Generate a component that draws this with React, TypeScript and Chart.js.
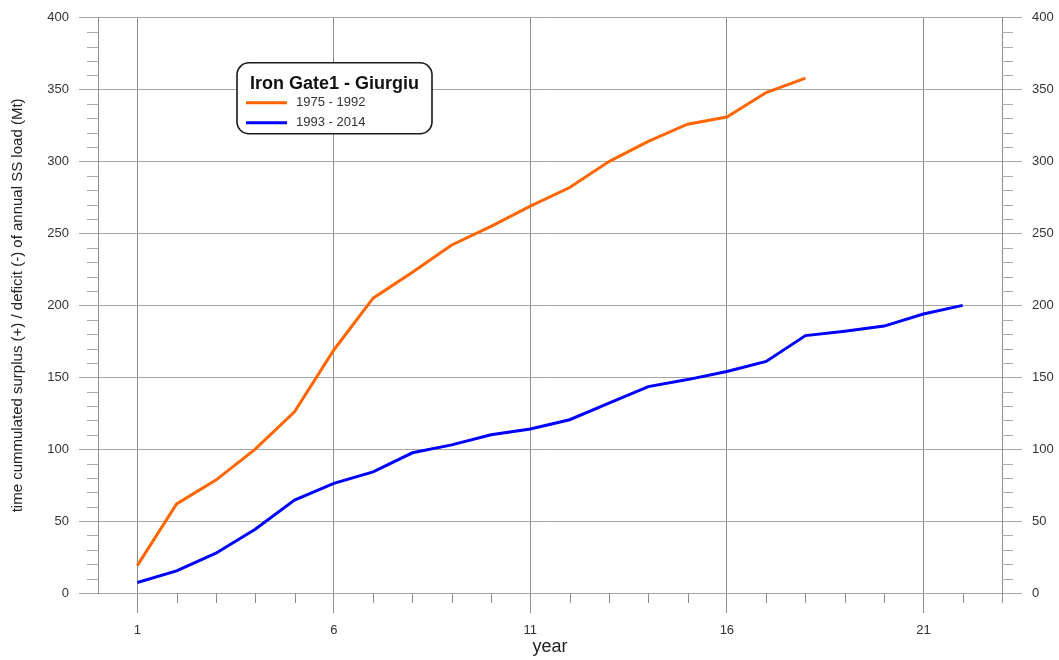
import React, { useEffect, useRef } from 'react';
import { Chart, registerables } from 'chart.js';

Chart.register(...registerables);

// ---- data ----
const years = [1, 2, 3, 4, 5, 6, 7, 8, 9, 10, 11, 12, 13, 14, 15, 16, 17, 18, 19, 20, 21, 22];
const series1975_1992 = [19, 62, 78.5, 100, 126, 169, 205, 223, 242, 255, 269, 282, 300, 314, 326, 331, 348, 358];
const series1993_2014 = [7.3, 15.4, 27.7, 44.3, 64.6, 76.2, 84.2, 97.5, 103, 110, 114, 120.5, 132, 143.5, 148.4, 154, 161, 179, 182, 185.6, 194, 200];
const seriesLabels = ['1975 - 1992', '1993 - 2014'];
const legendTitle = 'Iron Gate1 - Giurgiu';
const xMajorTicks = [1, 6, 11, 16, 21];
const xMin = 0;
const xMax = 23;
const yMin = 0;
const yMax = 400;
const yMajorStep = 50;
const yMinorStep = 10;
const yTitle = 'time cummulated surplus (+) / deficit (-) of annual SS load (Mt)';
const xTitle = 'year';

const FONT = "'Liberation Sans', Arial, Helvetica, sans-serif";

const decorPlugin = {
  id: 'decor',
  afterDraw(chart: any) {
    const { ctx, chartArea: ca, scales } = chart;
    const xs = scales.x;
    const ys = scales.y;
    ctx.save();
    // minor ticks
    ctx.strokeStyle = '#ababab';
    ctx.lineWidth = 1;
    ctx.beginPath();
    for (let v = yMin; v <= yMax; v += yMinorStep) {
      if (v % yMajorStep === 0) continue;
      const py = Math.round(ys.getPixelForValue(v)) + 0.5;
      ctx.moveTo(ca.left - 11, py);
      ctx.lineTo(ca.left, py);
      ctx.moveTo(ca.right, py);
      ctx.lineTo(ca.right + 11, py);
    }
    ctx.stroke();
    ctx.strokeStyle = '#8c8c8c';
    ctx.beginPath();
    for (let v = xMin + 1; v <= xMax; v += 1) {
      if (xMajorTicks.includes(v)) continue;
      const px = Math.round(xs.getPixelForValue(v)) + 0.5;
      ctx.moveTo(px, ca.bottom);
      ctx.lineTo(px, ca.bottom + 10);
    }
    ctx.stroke();

    // legend box
    const bx = ca.left + 139;
    const by = ca.top + 45;
    const bw = 195;
    const bh = 71;
    const r = 12;
    ctx.beginPath();
    ctx.moveTo(bx + r, by);
    ctx.lineTo(bx + bw - r, by);
    ctx.arcTo(bx + bw, by, bx + bw, by + r, r);
    ctx.lineTo(bx + bw, by + bh - r);
    ctx.arcTo(bx + bw, by + bh, bx + bw - r, by + bh, r);
    ctx.lineTo(bx + r, by + bh);
    ctx.arcTo(bx, by + bh, bx, by + bh - r, r);
    ctx.lineTo(bx, by + r);
    ctx.arcTo(bx, by, bx + r, by, r);
    ctx.closePath();
    ctx.fillStyle = '#ffffff';
    ctx.fill();
    ctx.strokeStyle = '#1a1a1a';
    ctx.lineWidth = 1.6;
    ctx.stroke();

    ctx.fillStyle = '#111';
    ctx.font = `bold 18px ${FONT}`;
    ctx.textAlign = 'center';
    ctx.textBaseline = 'middle';
    ctx.fillText(legendTitle, bx + bw / 2, by + 21);

    chart.data.datasets.forEach((ds: any, i: number) => {
      const ly = by + 40 + i * 20;
      ctx.strokeStyle = ds.borderColor;
      ctx.lineWidth = 3;
      ctx.beginPath();
      ctx.moveTo(bx + 9, ly);
      ctx.lineTo(bx + 50, ly);
      ctx.stroke();
      ctx.fillStyle = '#333';
      ctx.font = `13px ${FONT}`;
      ctx.textAlign = 'left';
      ctx.fillText(ds.label, bx + 59, ly);
    });
    ctx.restore();
  },
};

export default function App() {
  const ref = useRef<HTMLCanvasElement | null>(null);

  useEffect(() => {
    if (!ref.current) return;
    const chart = new Chart(ref.current, {
      type: 'line',
      data: {
        datasets: [
          {
            label: seriesLabels[0],
            data: series1975_1992.map((v, i) => ({ x: years[i], y: v })),
            borderColor: '#ff6600',
            backgroundColor: '#ff6600',
            borderWidth: 3,
            pointRadius: 0,
            tension: 0,
            yAxisID: 'y',
          },
          {
            label: seriesLabels[1],
            data: series1993_2014.map((v, i) => ({ x: years[i], y: v })),
            borderColor: '#0000ff',
            backgroundColor: '#0000ff',
            borderWidth: 3,
            pointRadius: 0,
            tension: 0,
            yAxisID: 'y',
          },
        ],
      },
      options: {
        animation: false,
        responsive: false,
        maintainAspectRatio: false,
        layout: { padding: { top: 16, left: 0, right: 0, bottom: 0 } },
        plugins: {
          legend: { display: false },
          tooltip: { enabled: false },
        },
        scales: {
          x: {
            type: 'linear',
            position: 'bottom',
            min: xMin,
            max: xMax,
            afterBuildTicks: (scale: any) => {
              scale.ticks = xMajorTicks.map((v) => ({ value: v }));
            },
            afterFit: (scale: any) => {
              scale.height = 67;
            },
            grid: {
              color: '#8c8c8c',
              lineWidth: 1,
              drawTicks: true,
              tickLength: 20,
              tickColor: '#8c8c8c',
            },
            border: { display: true, color: '#a6a6a6' },
            ticks: {
              color: '#333',
              font: { family: FONT, size: 13 },
              padding: 10,
              maxRotation: 0,
              autoSkip: false,
            },
            title: {
              display: true,
              text: xTitle,
              color: '#222',
              font: { family: FONT, size: 18 },
              padding: { top: 0, bottom: 2 },
            },
          },
          y: {
            type: 'linear',
            position: 'left',
            min: yMin,
            max: yMax,
            afterFit: (scale: any) => {
              scale.width = 98;
            },
            grid: {
              color: '#a6a6a6',
              lineWidth: 1,
              drawTicks: true,
              tickLength: 19,
              tickColor: '#a6a6a6',
            },
            border: { display: true, color: '#8c8c8c' },
            ticks: {
              stepSize: yMajorStep,
              color: '#333',
              font: { family: FONT, size: 13 },
              padding: 10,
            },
            title: {
              display: true,
              text: yTitle,
              color: '#222',
              font: { family: FONT, size: 15 },
              padding: { top: 9, bottom: 0 },
            },
          },
          y2: {
            type: 'linear',
            position: 'right',
            min: yMin,
            max: yMax,
            afterFit: (scale: any) => {
              scale.width = 57;
            },
            grid: {
              drawOnChartArea: false,
              drawTicks: true,
              tickLength: 20,
              color: '#a6a6a6',
              tickColor: '#a6a6a6',
            },
            border: { display: true, color: '#8c8c8c' },
            ticks: {
              stepSize: yMajorStep,
              color: '#333',
              font: { family: FONT, size: 13 },
              padding: 10,
            },
          },
        },
      },
      plugins: [decorPlugin],
    });
    return () => chart.destroy();
  }, []);

  return (
    <div style={{ position: 'fixed', left: 0, top: 0, width: 1059, height: 660, background: '#fff' }}>
      <canvas ref={ref} width={1059} height={660} style={{ width: 1059, height: 660, display: 'block' }} />
    </div>
  );
}
